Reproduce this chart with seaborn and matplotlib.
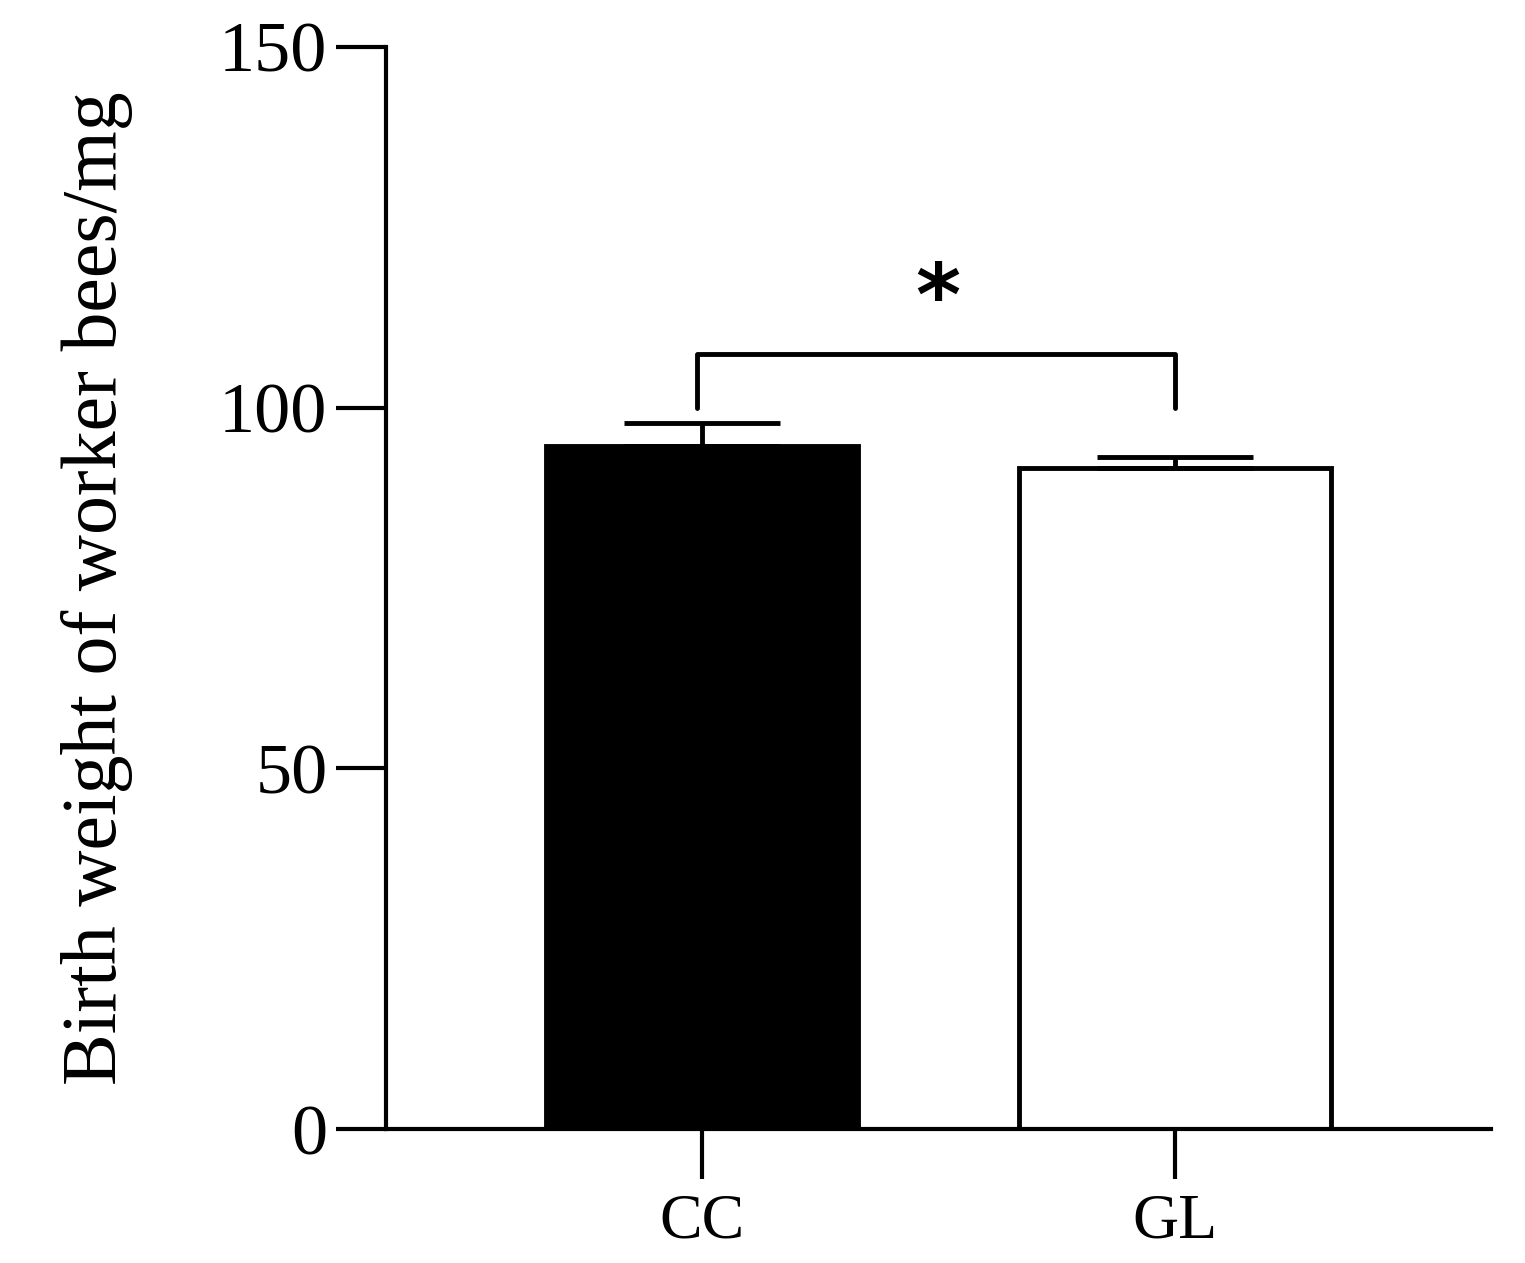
import matplotlib
matplotlib.use("Agg")
import matplotlib.pyplot as plt
import seaborn as sns
import pandas as pd

groups = ["CC", "GL"]
means = [94.6, 91.6]
sems = [3.3, 1.6]
bar_colors = ["black", "white"]
ylabel = "Birth weight of worker bees/mg"
yticks = [0, 50, 100, 150]
sig_y = 107.4
sig_text = "*"

sns.set_theme(style="ticks")
plt.rcParams['font.family'] = ['Liberation Serif', 'DejaVu Serif']

fig = plt.figure(figsize=(15.25, 12.63), dpi=100)
ax = fig.add_axes([0.253, 0.106, 0.725, 0.857])
df = pd.DataFrame({"group": groups, "value": means})
sns.barplot(data=df, x="group", y="value", hue="group", palette=bar_colors,
            edgecolor="black", linewidth=3.5, width=0.66, legend=False, ax=ax, errorbar=None)
ax.errorbar(range(len(groups)), means, yerr=[[0]*len(sems), sems], fmt="none",
            ecolor="black", elinewidth=3.5, capsize=56, capthick=3.5, zorder=5)

ax.plot([-0.01, -0.01, 1, 1], [100, sig_y, sig_y, 100], color="black", lw=3.5, clip_on=False)
ax.text(0.5, sig_y + 1.5, sig_text, ha="center", va="bottom", fontsize=62,
        fontweight="bold", family="DejaVu Sans", color="black")

ax.set_ylim(0, 150)
ax.set_xlim(-0.668, 1.670)
ax.set_yticks(yticks)
ax.set_xlabel("")
ax.set_ylabel(ylabel, fontsize=56, labelpad=62, color="black")
ax.tick_params(axis="both", direction="out", length=36, width=3, colors="black")
ax.tick_params(axis="y", labelsize=52, pad=6)
ax.tick_params(axis="x", labelsize=46, pad=10)
sns.despine(ax=ax)
for s in ["left", "bottom"]:
    ax.spines[s].set_linewidth(3)
    ax.spines[s].set_color("black")

fig.savefig("out.png", dpi=100)
